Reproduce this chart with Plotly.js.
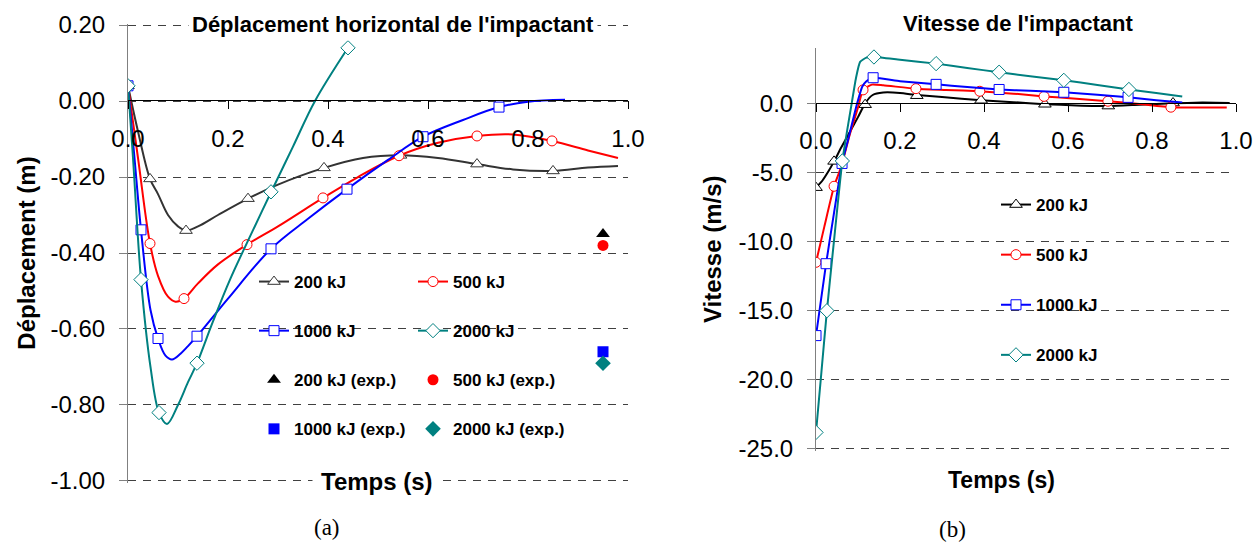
<!DOCTYPE html>
<html><head><meta charset="utf-8">
<script src="https://cdn.plot.ly/plotly-3.0.1.min.js"></script>
<style>html,body{margin:0;padding:0;background:#fff}#chart{width:1254px;height:543px}</style>
</head><body><div id="chart"></div>
<script>
// ---------- (a) Déplacement horizontal de l'impactant ----------
// dense curve points (time s, displacement m)
const tD200 = [0,0.02,0.044,0.06,0.08,0.1,0.116,0.14,0.18,0.24,0.3,0.392,0.47,0.545,0.62,0.698,0.77,0.85,0.92,0.98];
const yD200 = [0.04,-0.08,-0.205,-0.245,-0.3,-0.33,-0.341,-0.33,-0.3,-0.257,-0.22,-0.176,-0.15,-0.143,-0.15,-0.166,-0.18,-0.184,-0.175,-0.171];
const tD500 = [0,0.02,0.044,0.06,0.08,0.095,0.112,0.14,0.18,0.238,0.3,0.39,0.46,0.542,0.62,0.698,0.77,0.848,0.92,0.98];
const yD500 = [0.04,-0.15,-0.375,-0.46,-0.515,-0.528,-0.52,-0.48,-0.43,-0.378,-0.33,-0.255,-0.2,-0.144,-0.11,-0.092,-0.088,-0.105,-0.13,-0.15];
const tD1000 = [0,0.013,0.026,0.045,0.06,0.075,0.088,0.105,0.12,0.138,0.2,0.286,0.36,0.438,0.52,0.59,0.67,0.742,0.8,0.874];
const yD1000 = [0.04,-0.15,-0.339,-0.55,-0.625,-0.67,-0.68,-0.665,-0.645,-0.619,-0.52,-0.389,-0.31,-0.232,-0.155,-0.094,-0.05,-0.016,-0.002,0.003];
const tD2000 = [0,0.01,0.026,0.045,0.062,0.078,0.1,0.12,0.138,0.17,0.204,0.25,0.286,0.33,0.374,0.44];
const yD2000 = [0.04,-0.15,-0.47,-0.7,-0.82,-0.85,-0.8,-0.74,-0.69,-0.58,-0.47,-0.34,-0.24,-0.12,0.0,0.14];
// marker points
const mtD200 = [0,0.044,0.116,0.24,0.392,0.545,0.698,0.85];
const myD200 = [0.04,-0.205,-0.341,-0.257,-0.176,-0.143,-0.166,-0.184];
const mtD500 = [0,0.044,0.112,0.238,0.39,0.542,0.698,0.848];
const myD500 = [0.04,-0.375,-0.52,-0.378,-0.255,-0.144,-0.092,-0.105];
const mtD1000 = [0,0.026,0.06,0.138,0.286,0.438,0.59,0.742];
const myD1000 = [0.04,-0.339,-0.625,-0.619,-0.389,-0.232,-0.094,-0.016];
const mtD2000 = [0,0.026,0.062,0.138,0.286,0.44];
const myD2000 = [0.04,-0.47,-0.82,-0.69,-0.239,0.14];
// experimental
const tExp = [0.95];
const exp200 = [-0.35], exp500 = [-0.38], exp1000 = [-0.66], exp2000 = [-0.69];
const xTicks = [0,0.2,0.4,0.6,0.8,1.0];
const xTickLabels = ['0.0','0.2','0.4','0.6','0.8','1.0'];
const yTicksD = [0.2,0,-0.2,-0.4,-0.6,-0.8,-1.0];
const yTickLabelsD = ['0.20','0.00','-0.20','-0.40','-0.60','-0.80','-1.00'];

// ---------- (b) Vitesse de l'impactant ----------
const tV200 = [0,0.015,0.03,0.043,0.06,0.08,0.1,0.117,0.135,0.16,0.2,0.24,0.3,0.393,0.47,0.545,0.62,0.696,0.77,0.85,0.92,0.985];
const yV200 = [-6.1,-5.6,-4.9,-4.2,-3.2,-2.1,-1.0,0.0,0.6,0.78,0.75,0.6,0.45,0.22,0.08,-0.07,-0.15,-0.2,-0.1,0.0,0.05,0.02];
const tV500 = [0,0.02,0.043,0.06,0.08,0.1,0.112,0.133,0.16,0.238,0.31,0.39,0.47,0.543,0.62,0.695,0.77,0.845,0.92,0.978];
const yV500 = [-11.5,-8.9,-6.0,-4.6,-2.3,-0.3,0.97,1.35,1.3,1.06,0.97,0.87,0.7,0.5,0.33,0.15,-0.05,-0.28,-0.3,-0.3];
const tV1000 = [0,0.012,0.024,0.043,0.062,0.075,0.088,0.098,0.11,0.12,0.136,0.2,0.286,0.36,0.436,0.51,0.59,0.67,0.743,0.81,0.872];
const yV1000 = [-16.8,-14.2,-11.6,-7.9,-4.35,-2.8,-1.2,0.0,1.2,1.6,1.85,1.6,1.37,1.18,1.0,0.9,0.8,0.62,0.43,0.22,0.05];
const tV2000 = [0,0.013,0.026,0.045,0.0627,0.074,0.085,0.095,0.105,0.12,0.138,0.2,0.286,0.36,0.436,0.51,0.59,0.67,0.745,0.81,0.872];
const yV2000 = [-23.8,-19.4,-15.0,-9.3,-4.17,-2.0,0.0,1.8,3.0,3.3,3.35,3.15,2.87,2.55,2.25,1.95,1.66,1.33,1.0,0.75,0.5];
const mtV200 = [0,0.043,0.117,0.24,0.393,0.545,0.696,0.85];
const myV200 = [-6.1,-4.2,-0.1,0.55,0.22,-0.07,-0.2,0.02];
const mtV500 = [0,0.043,0.112,0.238,0.39,0.543,0.695,0.845];
const myV500 = [-11.5,-6.0,0.97,1.06,0.87,0.5,0.15,-0.28];
const mtV1000 = [0,0.024,0.062,0.136,0.286,0.436,0.59,0.743];
const myV1000 = [-16.8,-11.6,-4.35,1.85,1.37,1.0,0.8,0.43];
const mtV2000 = [0,0.026,0.0627,0.138,0.286,0.436,0.59,0.745];
const myV2000 = [-23.8,-15.0,-4.17,3.35,2.87,2.25,1.66,1.0];
const yTicksV = [0,-5,-10,-15,-20,-25];
const yTickLabelsV = ['0.0','-5.0','-10.0','-15.0','-20.0','-25.0'];

const names = ['200 kJ','500 kJ','1000 kJ','2000 kJ'];
const expNames = ['200 kJ (exp.)','500 kJ (exp.)','1000 kJ (exp.)','2000 kJ (exp.)'];

// ---------- layout helpers ----------
const W = 1254, H = 543;
const fx = p => p / W, fy = p => 1 - p / H;
const FONT = 'Liberation Sans, Arial, sans-serif';
const SYM = ['triangle-up','circle','square','diamond'];
const MSIZE = [11,10,10,11];
const colL = ['#333333','#FF0000','#0000FF','#008080'];
const colR = ['#000000','#FF0000','#0000FF','#008080'];

const traces = [];
function addSeries(i, xa, ya, tc, yc, tm, ym, cols, smooth){
  const c = cols[i];
  traces.push({x: tc, y: yc, xaxis: xa, yaxis: ya, mode: 'lines', name: names[i],
    line: {color: c, width: 2, shape: 'spline', smoothing: smooth}, showlegend: false, hoverinfo: 'skip'});
  traces.push({x: tm, y: ym, xaxis: xa, yaxis: ya, mode: 'markers', name: names[i], showlegend: false,
    marker: {symbol: SYM[i], size: MSIZE[i], color: '#ffffff', line: {color: c, width: 1}}});
}
function addLegend(i, xa, ya, cols, legendId){
  const c = cols[i];
  traces.push({x: [null], y: [null], xaxis: xa, yaxis: ya, mode: 'lines+markers', name: names[i],
    legend: legendId, legendgroup: legendId + names[i],
    line: {color: c, width: 2}, marker: {symbol: SYM[i], size: MSIZE[i], color: '#ffffff', line: {color: c, width: 1}}});
}
function addExp(i, yv, legendId){
  const c = i === 0 ? '#000000' : colL[i];
  traces.push({x: tExp, y: yv, xaxis: 'x', yaxis: 'y', mode: 'markers', name: expNames[i],
    legend: legendId, legendgroup: legendId + expNames[i],
    marker: {symbol: SYM[i], size: MSIZE[i] + 1, color: c}});
}

// left chart curves
addSeries(0,'x','y',tD200,yD200,mtD200,myD200,colL,1);
addSeries(1,'x','y',tD500,yD500,mtD500,myD500,colL,1);
addSeries(2,'x','y',tD1000,yD1000,mtD1000,myD1000,colL,1);
addSeries(3,'x','y',tD2000,yD2000,mtD2000,myD2000,colL,1);
// left legends: column 1 and column 2
addLegend(0,'x','y',colL,'legend');
addLegend(2,'x','y',colL,'legend');
addExp(0, exp200, 'legend');
addExp(2, exp1000, 'legend');
addLegend(1,'x','y',colL,'legend2');
addLegend(3,'x','y',colL,'legend2');
addExp(1, exp500, 'legend2');
addExp(3, exp2000, 'legend2');
// right chart curves
addSeries(0,'x2','y2',tV200,yV200,mtV200,myV200,colR,0.5);
addSeries(1,'x2','y2',tV500,yV500,mtV500,myV500,colR,0.5);
addSeries(2,'x2','y2',tV1000,yV1000,mtV1000,myV1000,colR,0.5);
addSeries(3,'x2','y2',tV2000,yV2000,mtV2000,myV2000,colR,0.5);
for (let i = 0; i < 4; i++) addLegend(i,'x2','y2',colR,'legend3');

const tickFont = {family: FONT, size: 24, color: '#000'};
const gridDash = '8px,7px';
const legFont = {family: FONT, size: 17, color: '#000', weight: 'bold'};
const ann = (text, x, y, size, extra) => Object.assign({text, xref: 'paper', yref: 'paper', x: fx(x), y: fy(y),
  xanchor: 'center', yanchor: 'middle', showarrow: false,
  font: {family: FONT, size, weight: 'bold', color: '#000'}}, extra || {});

const layout = {
  width: W, height: H, margin: {l: 0, r: 0, t: 0, b: 0},
  paper_bgcolor: '#ffffff', plot_bgcolor: 'rgba(0,0,0,0)',
  font: {family: FONT, color: '#000'},
  xaxis: {domain: [fx(128), fx(628)], range: [0, 1], anchor: 'free', position: fy(100),
    showline: true, linecolor: '#000', linewidth: 1, ticks: 'outside', ticklen: 8, tickcolor: '#000',
    tickvals: xTicks, ticktext: xTickLabels, tickfont: tickFont, ticklabelstandoff: 9,
    showgrid: false, zeroline: false},
  yaxis: {domain: [fy(482.5), fy(23.5)], range: [-1.004, 0.204], anchor: 'x',
    showline: true, linecolor: '#808080', linewidth: 1, ticks: 'outside', ticklen: 8, tickcolor: '#808080',
    tickvals: yTicksD, ticktext: yTickLabelsD, tickfont: tickFont, ticklabelstandoff: 9,
    showgrid: true, gridcolor: '#404040', gridwidth: 1, griddash: gridDash, zeroline: false,
    title: {text: 'Déplacement (m)', font: {family: FONT, size: 24, weight: 'bold', color: '#000'}, standoff: 8}},
  xaxis2: {domain: [fx(816), fx(1236)], range: [0, 1], anchor: 'free', position: fy(103),
    showline: true, linecolor: '#000', linewidth: 1, ticks: 'outside', ticklen: 8, tickcolor: '#000',
    tickvals: xTicks, ticktext: xTickLabels, tickfont: tickFont, ticklabelstandoff: 8,
    showgrid: false, zeroline: false},
  yaxis2: {domain: [fy(450.5), fy(48)], range: [-25.11, 4], anchor: 'x2',
    showline: true, linecolor: '#808080', linewidth: 1, ticks: 'outside', ticklen: 8, tickcolor: '#808080',
    tickvals: yTicksV, ticktext: yTickLabelsV, tickfont: tickFont, ticklabelstandoff: 9,
    showgrid: true, gridcolor: '#404040', gridwidth: 1, griddash: gridDash, zeroline: false,
    title: {text: 'Vitesse (m/s)', font: {family: FONT, size: 24, weight: 'bold', color: '#000'}, standoff: 10}},
  legend: {x: fx(254), y: fy(264), xanchor: 'left', yanchor: 'top', bgcolor: 'rgba(0,0,0,0)',
    font: legFont, tracegroupgap: 24, traceorder: 'grouped'},
  legend2: {x: fx(413), y: fy(264), xanchor: 'left', yanchor: 'top', bgcolor: 'rgba(0,0,0,0)',
    font: legFont, tracegroupgap: 24, traceorder: 'grouped'},
  legend3: {x: fx(996), y: fy(187), xanchor: 'left', yanchor: 'top', bgcolor: 'rgba(0,0,0,0)',
    font: legFont, tracegroupgap: 25, traceorder: 'grouped'},
  shapes: [
    {type: 'rect', xref: 'paper', yref: 'paper', x0: fx(257), x1: fx(573), y0: fy(462), y1: fy(264),
      fillcolor: '#ffffff', line: {width: 0}, layer: 'between'},
    {type: 'rect', xref: 'paper', yref: 'paper', x0: fx(963), x1: fx(1138), y0: fy(372), y1: fy(185),
      fillcolor: '#ffffff', line: {width: 0}, layer: 'between'}
  ],
  annotations: [
    ann("Déplacement horizontal de l'impactant", 393, 25, 22, {bgcolor: '#ffffff', borderpad: 3}),
    ann('Temps (s)', 377, 481, 24, {bgcolor: '#ffffff', borderpad: 8}),
    ann("Vitesse de l'impactant", 1018, 23, 22),
    ann('Temps (s)', 1001, 480, 23),
    ann('(a)', 327, 527, 23, {font: {family: 'Liberation Serif, Times New Roman, serif', size: 23, color: '#000'}}),
    ann('(b)', 953, 529, 23, {font: {family: 'Liberation Serif, Times New Roman, serif', size: 23, color: '#000'}})
  ]
};

Plotly.newPlot('chart', traces, layout, {staticPlot: true, displayModeBar: false});
</script></body></html>
